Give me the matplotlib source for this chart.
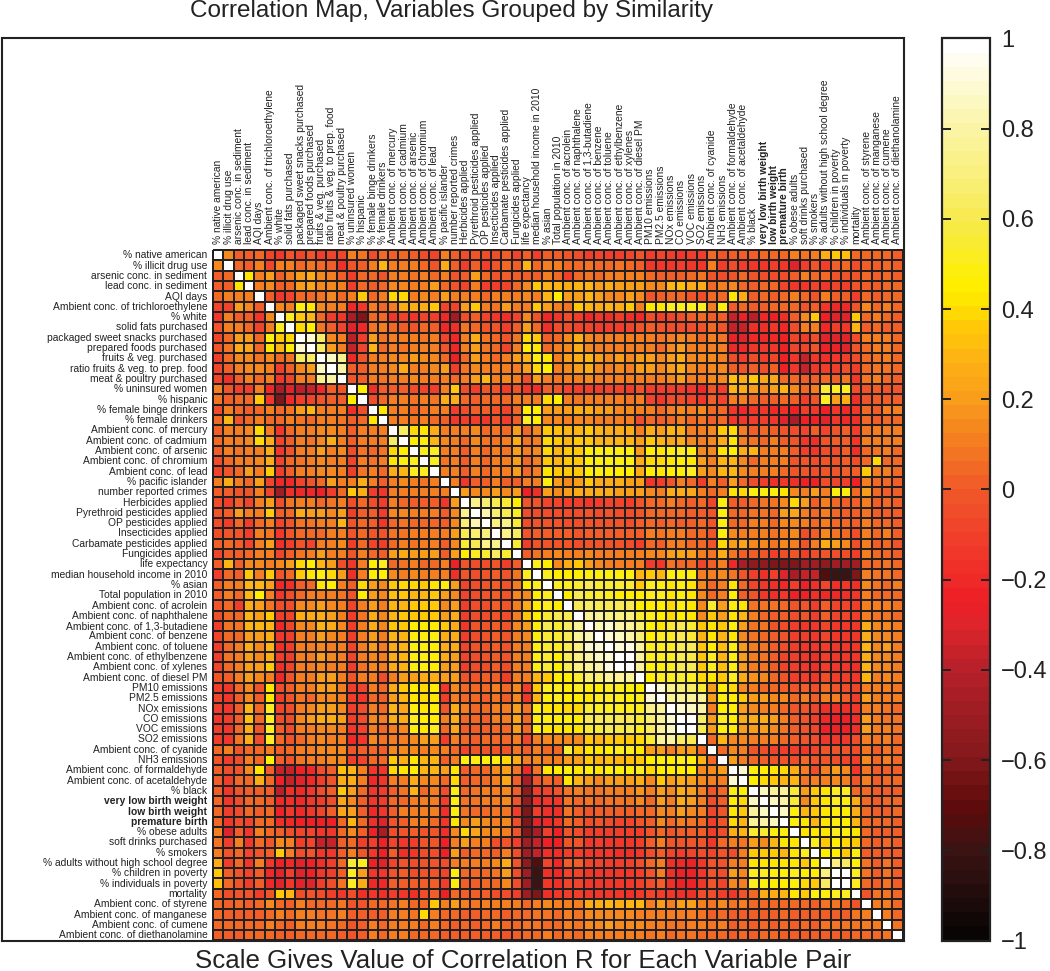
import numpy as np
import matplotlib
matplotlib.use("Agg")
import matplotlib.pyplot as plt
from matplotlib.colors import LinearSegmentedColormap

variables = ["% native american","% illicit drug use","arsenic conc. in sediment","lead conc. in sediment","AQI days",
"Ambient conc. of trichloroethylene","% white","solid fats purchased","packaged sweet snacks purchased","prepared foods purchased",
"fruits & veg. purchased","ratio fruits & veg. to prep. food","meat & poultry purchased","% uninsured women","% hispanic",
"% female binge drinkers","% female drinkers","Ambient conc. of mercury","Ambient conc. of cadmium","Ambient conc. of arsenic",
"Ambient conc. of chromium","Ambient conc. of lead","% pacific islander","number reported crimes","Herbicides applied",
"Pyrethroid pesticides applied","OP pesticides applied","Insecticides applied","Carbamate pesticides applied","Fungicides applied",
"life expectancy","median household income in 2010","% asian","Total population in 2010","Ambient conc. of acrolein",
"Ambient conc. of naphthalene","Ambient conc. of 1,3-butadiene","Ambient conc. of benzene","Ambient conc. of toluene","Ambient conc. of ethylbenzene",
"Ambient conc. of xylenes","Ambient conc. of diesel PM","PM10 emissions","PM2.5 emissions","NOx emissions",
"CO emissions","VOC emissions","SO2 emissions","Ambient conc. of cyanide","NH3 emissions",
"Ambient conc. of formaldehyde","Ambient conc. of acetaldehyde","% black","very low birth weight","low birth weight",
"premature birth","% obese adults","soft drinks purchased","% smokers","% adults without high school degree",
"% children in poverty","% individuals in poverty","mortality","Ambient conc. of styrene","Ambient conc. of manganese",
"Ambient conc. of cumene","Ambient conc. of diethanolamine"]
bold_variables = ["very low birth weight","low birth weight","premature birth"]
colorbar_ticks = [-1,-0.8,-0.6,-0.4,-0.2,0,0.2,0.4,0.6,0.8,1]
colorbar_labels = ["\u22121","\u22120.8","\u22120.6","\u22120.4","\u22120.2","0","0.2","0.4","0.6","0.8","1"]
title_text = "Correlation Map, Variables Grouped by Similarity"
caption_text = "Scale Gives Value of Correlation R for Each Variable Pair"

# correlations x 100, upper triangle. Rows 1-21, columns up to 21
upper_left = [
[15,3,3,5,-8,-15,-3,-8,-3,-12,-8,-8,12,8,-5,5,3,5,3,-5],
[5,3,10,-8,12,10,5,8,5,3,-18,-3,2,10,30,12,10,10,5],
[42,10,20,3,12,20,25,15,12,2,-10,5,5,-3,10,10,8,10],
[12,15,0,5,20,22,15,15,10,-12,5,3,5,15,15,12,10],
[0,-15,-8,5,5,8,15,5,10,35,5,10,40,40,10,15],
[15,12,47,42,15,12,10,-20,-15,10,5,10,25,25,25],
[50,35,30,5,-12,-15,-45,-60,5,5,-15,-8,-15,-8],
[38,45,8,3,-8,-30,-20,8,10,5,3,-3,5],
[88,65,15,10,-40,-12,20,8,10,10,12,8],
[65,20,12,-35,-8,30,5,10,8,10,12],
[85,72,-20,-3,10,10,15,15,20,15],
[80,0,3,10,10,15,28,12,12],
[-3,2,12,8,12,12,15,10],
[45,-18,3,0,3,-5,-8],
[-5,5,10,10,8,10],
[42,10,10,5,8],
[10,12,8,10],
[65,40,42],
[45,48],
[50],
[],
]
# Rows 1-21, columns 22-44
top_mid = [
[-8,12,0,-5,-3,-5,-5,0,-8,0,-10,0,3,-3,-5,-10,-8,-10,-10,-8,-3,-10,-8],
[-3,25,0,-12,0,-12,-3,5,2,30,5,12,10,5,5,8,5,5,8,5,0,-15,-15],
[5,10,-3,0,20,5,-3,3,3,0,3,10,5,-12,5,8,5,10,10,10,10,5,3],
[20,5,-3,-8,10,-10,-10,-8,5,15,35,30,30,25,30,30,20,25,20,20,20,15,15],
[10,20,10,10,12,5,12,10,12,15,10,30,45,20,20,30,20,15,15,20,15,-3,0],
[35,-8,-8,20,35,10,8,20,10,12,35,20,10,8,35,30,25,30,25,35,12,42,42],
[-10,-20,-50,-5,0,-8,-15,-18,-8,15,-3,-20,-15,-5,-12,-20,-15,-18,-12,-18,-20,-5,-10],
[0,-20,-18,8,5,-3,-3,-10,2,20,5,-18,-5,-5,-8,-8,-10,-10,-10,-8,-3,0,-3],
[10,-8,-20,10,25,8,5,-3,8,40,35,0,5,15,28,15,10,12,12,10,10,10,8],
[12,-3,-20,10,20,8,5,-8,10,45,42,5,10,15,25,15,12,12,12,10,12,10,5],
[15,5,-22,5,20,12,5,10,20,30,48,42,10,20,25,30,20,15,20,15,20,20,15],
[15,20,-12,8,15,10,10,12,12,20,40,45,12,15,20,25,15,12,15,12,20,20,15],
[10,10,5,10,20,30,12,15,10,-5,20,10,8,12,10,15,12,10,12,10,10,12,10],
[-10,10,35,-5,-12,-2,-2,-12,-3,-15,-18,2,-2,-8,-12,-12,-10,-8,-8,-12,-3,-10,-12],
[8,28,28,5,2,5,5,5,10,12,10,40,45,12,8,10,10,10,10,8,10,-8,-15],
[10,10,-12,-5,0,0,-3,-8,5,45,45,20,20,20,25,25,20,20,15,15,12,10,5],
[5,0,-15,-10,-12,-15,-3,-10,3,50,45,15,15,10,15,15,12,12,10,10,-5,5,0],
[28,10,10,10,15,5,8,5,20,5,15,35,32,30,30,35,30,25,25,25,12,25,20],
[30,15,10,5,15,8,8,10,25,8,10,40,35,30,35,35,30,30,30,30,20,35,30],
[50,10,10,0,10,5,10,8,20,10,15,40,30,35,35,45,47,47,47,47,20,45,42],
[50,8,12,2,12,5,10,10,20,5,12,35,30,35,35,45,48,48,47,47,25,40,40],
]
# Rows 1-21, columns 45-67
top_right = [
[-12,-15,-10,-10,5,-3,3,3,3,5,5,5,10,8,12,25,35,33,5,5,5,5,3],
[-15,-12,-15,-15,10,-12,-5,-12,-15,-15,-12,-15,-30,-10,-3,-12,0,5,-5,0,3,5,3],
[3,3,5,8,-3,-5,-2,5,-3,-5,-5,-5,2,10,5,5,-3,-3,-3,5,3,5,3],
[30,32,25,25,5,10,15,5,3,5,5,-8,-15,-15,-8,-15,-8,-12,-3,3,3,5,5],
[5,5,-3,-5,5,5,42,25,2,5,3,5,10,5,-3,10,3,3,-10,5,3,5,5],
[50,50,50,50,10,48,0,5,3,3,5,5,5,-3,0,-15,-20,-20,-3,15,5,10,5],
[-8,-5,0,5,0,3,-35,-22,-40,-20,-25,-18,2,15,35,-25,-30,-30,35,5,10,5,3],
[-5,-5,-5,-3,5,-3,-35,-35,-18,-18,-15,-20,-5,10,12,-20,-10,-15,30,0,5,3,2],
[10,15,10,5,10,8,-25,-30,-20,-20,-20,-25,-8,-10,-5,-30,-30,-30,-5,10,10,10,5],
[15,20,10,10,10,10,-20,-20,-15,-15,-15,-25,-8,-8,-3,-25,-25,-30,-3,5,10,10,5],
[20,25,15,15,15,10,-5,-10,-5,-12,-8,-25,-15,-35,-15,-18,-15,-10,-5,5,8,10,5],
[20,25,15,10,15,15,0,-3,2,-5,0,-25,-15,-35,-15,-10,-10,-5,-10,5,8,8,5],
[15,20,12,12,15,15,32,28,35,22,22,5,5,0,0,5,3,8,-15,8,10,5,3],
[-10,-12,-15,-20,-3,-10,30,25,20,15,20,30,15,5,10,55,50,50,-5,-3,3,-3,-3],
[-5,-5,-8,-15,0,-8,10,10,5,2,2,5,2,-10,-3,50,20,25,-18,-3,3,0,0],
[10,15,10,15,5,5,-15,-20,-15,-15,-20,-18,-25,-12,-15,-25,-15,-20,-15,5,3,10,12],
[5,10,5,8,3,5,-15,-15,-12,-12,-15,-30,-45,-25,-25,-30,-15,-20,-18,5,3,5,5],
[30,25,12,12,15,35,40,10,0,5,3,-3,-5,-8,0,-8,-3,0,-12,8,10,12,10],
[22,25,15,10,15,25,42,10,8,5,10,0,-3,-15,-18,-3,0,0,-15,10,12,12,10],
[48,50,47,15,15,42,45,25,30,10,10,10,0,-12,-15,-5,-5,0,-18,5,8,10,5],
[42,45,42,20,12,30,30,15,5,10,10,10,-3,-3,-5,-3,-3,0,-5,5,38,5,5],
]
# Rows 22-44, columns up to 44
mid_mid = [
[10,12,2,12,5,12,10,20,5,12,42,35,35,35,45,48,45,45,45,25,45,42],
[10,-15,0,0,12,3,3,10,10,48,20,15,20,35,25,25,25,20,20,-15,-12],
[20,15,15,20,15,20,-25,-18,20,15,20,25,25,25,25,20,20,20,15,12],
[72,68,60,55,45,-3,-3,-8,-8,-10,-12,-15,-12,-8,-8,-10,-3,5,5],
[82,68,60,50,-5,-5,-5,-5,-5,-5,-3,-5,-3,-5,-5,-2,5,5],
[70,72,55,-5,-2,-3,-3,-5,-5,-3,-3,-3,-3,-5,2,5,3],
[72,65,-3,0,0,2,0,-3,2,0,0,2,0,3,10,8],
[55,-12,-3,-2,-2,-3,-5,-3,-3,-3,-3,-5,-10,5,3],
[2,8,12,15,12,10,15,10,10,12,10,12,15,15],
[50,45,15,25,35,20,15,12,12,10,12,-12,-15],
[50,45,45,45,47,47,47,47,47,30,35,30],
[50,50,55,60,55,55,55,55,35,50,48],
[45,60,55,55,50,45,45,45,50,50],
[60,65,60,60,60,60,45,45,45],
[75,75,70,70,70,55,50,45],
[82,88,80,78,68,47,42],
[88,85,80,68,45,50],
[88,92,75,50,50],
[97,75,50,50],
[75,48,48],
[45,50],
[90],
[],
]
# Rows 22-44, columns 45-67
mid_right = [
[45,45,50,20,15,30,30,15,10,10,10,5,-3,-3,-5,-3,-3,0,0,35,10,10,5],
[-3,10,5,-10,10,3,20,5,-5,-12,-18,-15,-18,-25,-25,-5,-8,-10,-25,10,5,5,3],
[25,25,22,12,5,10,42,38,47,47,47,42,15,12,20,10,47,48,5,20,5,3,3],
[10,5,3,5,-8,47,3,0,5,8,8,15,38,20,3,10,5,3,0,10,3,5,0],
[5,5,3,3,-3,48,5,5,8,8,5,20,22,10,5,10,5,3,0,8,3,3,0],
[5,3,2,5,-3,47,5,5,10,10,5,15,15,10,5,10,5,5,0,10,5,5,0],
[10,10,5,5,-3,47,15,10,10,10,8,10,15,-5,3,15,8,5,-5,12,5,10,0],
[10,10,5,5,-3,38,20,22,15,15,8,15,10,-3,10,28,20,15,-5,10,3,5,-3],
[20,22,20,12,8,25,8,3,0,-3,-10,-5,-3,-10,-5,-3,-5,-5,-12,10,5,5,3],
[8,5,5,-8,3,10,-20,-45,-55,-55,-60,-60,-60,-50,-50,-55,-50,-50,-50,5,5,8,5],
[48,47,48,10,10,15,8,-2,-12,-18,-12,-30,-45,-35,-35,-75,-80,-80,-60,12,8,8,5],
[42,47,42,15,5,10,42,5,-8,-15,-18,-20,-12,-25,-18,-8,-18,-15,-18,15,8,5,10],
[42,47,42,15,5,10,45,3,-3,-15,-18,-15,-25,-25,-18,-20,-20,-18,-15,12,5,5,5],
[40,47,42,15,55,20,47,42,8,8,8,5,-3,-3,-12,2,-8,-8,-12,12,10,10,8],
[38,45,42,15,35,20,42,30,10,5,2,3,-5,-3,-12,0,-8,-8,-12,12,8,8,5],
[55,62,55,35,42,35,48,20,8,8,-3,-5,-12,-15,-15,-8,-15,-15,-15,25,15,15,12],
[52,60,55,30,42,30,42,15,8,5,0,-3,-10,-12,-15,-8,-15,-15,-15,25,15,15,12],
[50,62,60,35,45,32,47,20,12,8,2,-5,-12,-15,-15,-10,-15,-15,-15,30,15,20,12],
[50,60,58,35,50,30,47,20,12,8,2,-8,-12,-15,-18,-10,-15,-15,-15,28,15,15,12],
[50,62,60,35,50,32,48,20,12,8,2,-8,-12,-15,-18,-10,-15,-15,-18,30,15,15,12],
[50,55,52,40,42,35,50,25,18,15,5,-2,-10,-12,-15,-5,-12,-12,-15,30,12,15,10],
[72,68,65,55,20,45,38,15,10,5,5,0,-3,3,-5,5,-3,-5,-8,10,12,10,8],
[75,78,75,75,20,48,45,35,20,20,15,15,5,10,3,10,10,0,-10,20,12,10,10],
]
# Rows 45-67, columns up to 67
low_right = [
[90,85,80,12,45,45,20,15,12,10,5,-3,-3,-8,-18,-18,-18,-15,10,10,8,5],
[97,65,20,50,45,25,25,25,20,10,0,-3,-10,-20,-25,-25,-18,20,10,8,8],
[60,20,48,45,20,20,20,15,8,0,-3,-8,-25,-25,-25,-18,20,10,10,8],
[5,30,15,15,12,12,10,5,2,-3,-5,-15,-15,-15,-5,12,8,10,5],
[5,15,10,-2,-5,-8,-12,-10,-15,-8,-3,-3,-3,-5,8,3,8,5],
[20,12,5,3,-3,-3,-5,5,-3,-3,-5,-8,-12,15,5,10,5],
[90,48,45,42,40,25,12,-5,12,20,15,-15,8,0,3,3],
[45,40,35,30,30,8,10,12,15,12,-3,12,3,5,5],
[85,78,75,55,20,35,42,50,50,5,5,3,3,3],
[85,80,55,15,35,42,50,48,28,5,0,5,5],
[85,48,30,35,42,48,45,25,5,3,3,5],
[48,42,30,42,48,45,30,5,5,5,3],
[42,42,42,50,47,42,5,3,3,3],
[52,35,45,38,35,5,3,5,3],
[45,45,35,48,3,3,3,3],
[70,65,48,8,3,8,3],
[97,50,8,3,8,3],
[50,5,3,8,3],
[-3,8,8,5],
[10,12,5],
[12,5],
[8],
[],
]

# Colour scale
scale_values = [-1,-0.8,-0.72,-0.6,-0.4,-0.3,-0.25,-0.2,-0.1,0,0.1,0.2,0.3,0.36,0.42,0.47,0.6,0.7,0.8,0.9,1]
scale_colours = ["#0a0505","#3f1414","#5c0a0a","#851a1c","#b8202a","#e0252b","#ee1e26","#ef2b27","#f0402a","#f0592a",
                 "#f47b20","#f99c1c","#fdb414","#ffc708","#ffe400","#fff000","#f6e94a","#f9ef7a","#fbf4a0","#fdf9cf","#ffffff"]

n = len(variables)
upper_rows = []
for i in range(21):
    upper_rows.append(upper_left[i] + top_mid[i] + top_right[i])
for i in range(23):
    upper_rows.append(mid_mid[i] + mid_right[i])
upper_rows += low_right
corr = np.eye(n) * 100.0
for i, row in enumerate(upper_rows):
    assert len(row) == n - i - 1, (i + 1, len(row), n - i - 1)
    corr[i, i + 1:] = row
    corr[i + 1:, i] = row
corr = corr / 100.0

W, H = 1050, 971
plt.rcParams["font.family"] = ["Liberation Sans", "DejaVu Sans"]
fig = plt.figure(figsize=(W / 100, H / 100), dpi=100)

def px_axes(x0, y0, x1, y1):
    return fig.add_axes([x0 / W, 1 - y1 / H, (x1 - x0) / W, (y1 - y0) / H])

frame = (2.0, 38.5, 904.0, 940.5)
ax = px_axes(*frame)
col0, dx = 218.3, 10.29
row0, dy = 255.3, 10.3
ax.set_xlim(1 + (frame[0] - col0) / dx, 1 + (frame[2] - col0) / dx)
ax.set_ylim(1 + (frame[3] - row0) / dy, 1 + (frame[1] - row0) / dy)
ax.set_xticks([]); ax.set_yticks([])
for s in ax.spines.values():
    s.set_linewidth(1.5); s.set_color("#222222")

anchors = [(v + 1) / 2 for v in scale_values]
cmap = LinearSegmentedColormap.from_list("print_hot", list(zip(anchors, scale_colours)), N=64)
edges = np.arange(n + 1) + 0.5
mesh = ax.pcolormesh(edges, edges, corr, cmap=cmap, vmin=-1, vmax=1,
                     edgecolors="#231f20", linewidth=1.3)

for k, name in enumerate(variables, start=1):
    weight = "bold" if name in bold_variables else "normal"
    ax.text(-0.07, k, name, ha="right", va="center", fontsize=7.4, color="#222222",
            weight=weight, clip_on=False)
    ax.text(k, -0.1, name, ha="center", va="bottom", rotation=90, fontsize=7.4,
            color="#222222", weight=weight, clip_on=False)

fig.text(452 / W, 1 - 11 / H, title_text, ha="center", va="center", fontsize=17.5, color="#222222")
fig.text(523 / W, 1 - 961 / H, caption_text, ha="center", va="center", fontsize=18.6, color="#222222")

cax = px_axes(942, 38.5, 990, 940.5)
cb = fig.colorbar(mesh, cax=cax, ticks=colorbar_ticks)
cb.ax.set_yticklabels(colorbar_labels)
cb.outline.set_linewidth(1.6)
cb.outline.set_edgecolor("#222222")
cb.ax.tick_params(left=True, right=True, labelleft=False, labelright=True, direction="in",
                  length=6.5, width=1.4, color="#222222", labelsize=17, labelcolor="#222222", pad=8)

fig.savefig("out.png", dpi=100, facecolor="white")
